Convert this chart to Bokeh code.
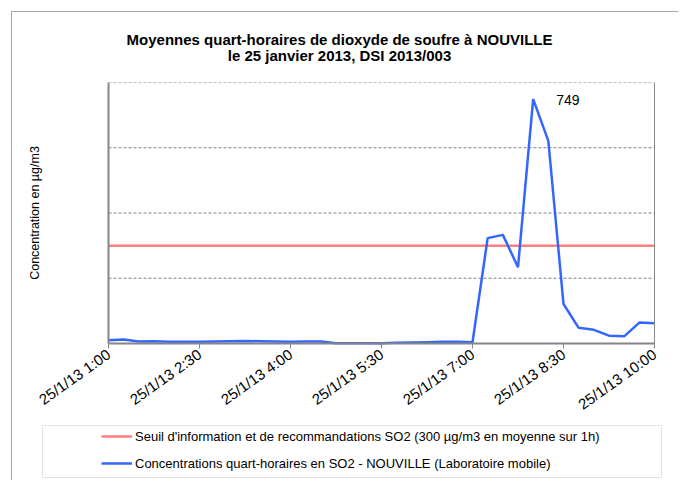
import math
from bokeh.plotting import figure
from bokeh.models import (FixedTicker, LinearAxis, Legend, LegendItem, Range1d, Label, BoxAnnotation)
from bokeh.core.properties import value
from bokeh.embed import file_html
from bokeh.resources import INLINE

# ---- data ----
times = ["1:00", "1:15", "1:30", "1:45", "2:00", "2:15", "2:30", "2:45", "3:00", "3:15",
         "3:30", "3:45", "4:00", "4:15", "4:30", "4:45", "5:00", "5:15", "5:30", "5:45",
         "6:00", "6:15", "6:30", "6:45", "7:00", "7:15", "7:30", "7:45", "8:00", "8:15",
         "8:30", "8:45", "9:00", "9:15", "9:30", "9:45", "10:00"]
so2 = [10, 12, 6, 7, 5, 5, 5, 6, 7, 8,
       7, 6, 5, 6, 6, 1, 1, 1, 1, 2,
       3, 4, 5, 5, 4, 323, 333, 234, 749, 621,
       121, 48, 42, 24, 22, 64, 62]
threshold = 300
tick_times = ["1:00", "2:30", "4:00", "5:30", "7:00", "8:30", "10:00"]
tick_labels = ["25/1/13 1:00", "25/1/13 2:30", "25/1/13 4:00", "25/1/13 5:30",
               "25/1/13 7:00", "25/1/13 8:30", "25/1/13 10:00"]
y_grid = [0, 200, 400, 600, 800]
title_line1 = "Moyennes quart-horaires de dioxyde de soufre à NOUVILLE"
title_line2 = "le 25 janvier 2013, DSI 2013/003"
y_label = "Concentration en µg/m3"
label_threshold = "Seuil d'information et de recommandations SO2 (300 µg/m3 en moyenne sur 1h)"
label_conc = "Concentrations quart-horaires en SO2 - NOUVILLE (Laboratoire mobile)"

FONT = "Liberation Sans"
AX = "#868686"


def hours(t):
    h, m = t.split(":")
    return int(h) + int(m) / 60.0


x = [hours(t) for t in times]
tick_pos = [hours(t) for t in tick_times]

# ---- layout geometry (canvas pixels) ----
W, H = 667, 469
TOP = 70                      # space for the titles
PL, PR = 96, 642              # plot area left / right in canvas px
PB = 331                      # plot area bottom (y = 0) in canvas px
xs = (PR - PL) / (x[-1] - x[0])
ys = (PB - TOP) / (y_grid[-1] - y_grid[0])
x_rng = Range1d(x[0] - PL / xs, x[-1] + (W - PR) / xs)
y_rng = Range1d(y_grid[0] - (H - PB) / ys, y_grid[-1])

p = figure(width=W, height=H, output_backend="svg", toolbar_location=None,
           x_range=x_rng, y_range=y_rng,
           min_border_left=0, min_border_right=0, min_border_top=TOP, min_border_bottom=0)
p.margin = (11, 0, 0, 11)
p.styles = {"border-left": "1px solid #a6a6a6", "border-top": "1px solid #a6a6a6"}
p.outline_line_color = None
p.background_fill_color = "white"
p.border_fill_color = "white"
p.grid.visible = False

# titles (two centred lines over the whole chart)
for txt, yy in ((title_line1, 26), (title_line2, 42)):
    p.add_layout(Label(x=326, y=yy, x_units="canvas", y_units="canvas", text=txt,
                       text_align="center", text_baseline="middle", text_font=FONT,
                       text_font_size="15px", text_font_style="bold", text_color="black"),
                 "above")

# horizontal dashed grid lines
p.segment(x0=[x[0]] * (len(y_grid) - 1), x1=[x[-1]] * (len(y_grid) - 1),
          y0=y_grid[1:], y1=y_grid[1:], line_color="#808080", line_width=1, line_dash="3 2")

# x axis
xa = p.xaxis[0]
xa.fixed_location = y_grid[0]
xa.bounds = (x[0], x[-1])
xa.ticker = FixedTicker(ticks=tick_pos)
xa.major_label_overrides = {pos: lab for pos, lab in zip(tick_pos, tick_labels)}
xa.major_label_orientation = 0.62
xa.major_label_text_font = FONT
xa.major_label_text_font_size = "15px"
xa.major_label_text_color = "black"
xa.major_label_standoff = 4
xa.axis_line_color = AX
xa.axis_line_width = 2
xa.major_tick_line_color = AX
xa.major_tick_out = 5
xa.major_tick_in = 0
xa.minor_tick_line_color = None

# y axis
ya = p.yaxis[0]
ya.fixed_location = x[0]
ya.bounds = (y_grid[0], y_grid[-1])
ya.ticker = FixedTicker(ticks=y_grid)
ya.major_label_text_font_size = "0px"
ya.major_tick_line_color = None
ya.minor_tick_line_color = None
ya.axis_line_color = AX
ya.axis_line_width = 2
ya.axis_label = y_label
ya.axis_label_text_font = FONT
ya.axis_label_text_font_size = "12.5px"
ya.axis_label_text_font_style = "normal"
ya.axis_label_text_color = "black"
ya.axis_label_standoff = 61

ra = LinearAxis(ticker=FixedTicker(ticks=[]), major_label_text_font_size="0px",
                major_tick_line_color=None, minor_tick_line_color=None,
                axis_line_color=AX, axis_line_width=1,
                fixed_location=x[-1], bounds=(y_grid[0], y_grid[-1]))
p.add_layout(ra, "right")

r_thr = p.line([x[0], x[-1]], [threshold, threshold], line_color="#ff7f7f", line_width=2.5)
r_conc = p.line(x, so2, line_color="#3366ff", line_width=2.5)

i_max = so2.index(max(so2))
p.text(x=[x[i_max]], y=[so2[i_max]], text=[str(so2[i_max])], x_offset=23, y_offset=1,
       text_baseline="middle", text_align="left", text_font=value(FONT),
       text_font_size="14px", text_color="black")

# legend frame and legend
box = BoxAnnotation(left=29, right=648, top=412, bottom=464,
                    left_units="canvas", right_units="canvas",
                    top_units="canvas", bottom_units="canvas",
                    fill_color="white", fill_alpha=1, line_color="#a0a0a0", line_width=1)
p.add_layout(box)

legend = Legend(items=[LegendItem(label=label_threshold, renderers=[r_thr]),
                       LegendItem(label=label_conc, renderers=[r_conc])],
                location=(89, 6), padding=0, spacing=3, margin=0,
                glyph_width=31, glyph_height=24, label_height=24, label_standoff=3,
                label_text_font=FONT, label_text_font_size="13px", label_text_color="black",
                border_line_color=None, background_fill_alpha=0)
p.add_layout(legend)

open("out.html", "w").write(file_html(p, INLINE))
